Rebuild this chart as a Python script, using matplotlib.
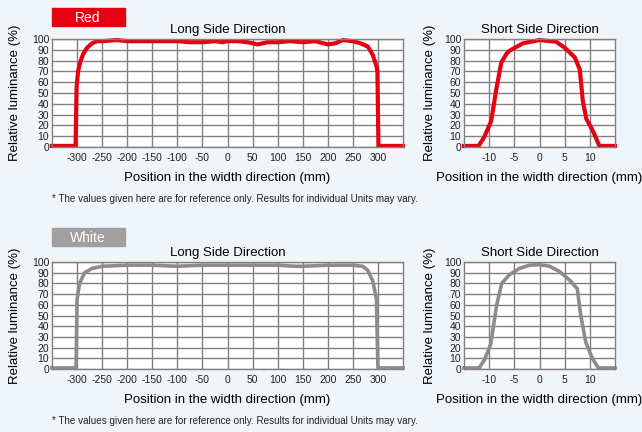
import matplotlib.pyplot as plt

plt.rcParams['font.family'] = ['Liberation Sans', 'DejaVu Sans']
plt.rcParams['axes.unicode_minus'] = False

# Red, long side
red_long_x = [-350, -303, -301, -298, -294, -288, -280, -270, -260, -250, -220, -200, -150, -100, -75, -50,
              -25, -10, 0, 20, 40, 60, 80, 100, 125, 150, 175, 200, 215, 230, 250, 265, 280, 290, 297, 299, 301, 350]
red_long_y = [1, 1, 55, 70, 78, 86, 92, 96, 98, 98, 99, 98, 98, 98, 97, 97,
              98, 97, 98, 98, 97, 95, 97, 97, 98, 97, 98, 95, 96, 99, 98, 96, 93, 85, 75, 70, 1, 1]
# Red, short side
red_short_x = [-15, -12.1, -11, -9.6, -8.6, -7.6, -6.6, -6, -3.3, 0, 3.3, 5, 7, 8, 8.6, 9.3, 10.6, 11.9, 15]
red_short_y = [1, 1, 9, 24, 53, 78, 86, 89, 96, 99, 97.5, 92, 83, 72, 43, 26, 15, 1, 1]
# White, long side
wht_long_x = [-350, -302, -300, -295, -285, -270, -250, -200, -150, -100, -50, 0, 50, 100, 135, 150,
              200, 250, 270, 280, 290, 297, 300, 350]
wht_long_y = [1, 1, 65, 80, 90, 94, 96, 97, 97, 96, 97, 97, 97, 97, 96, 96,
              97, 97, 96, 92, 82, 65, 1, 1]
# White, short side
wht_short_x = [-15, -12, -11, -9.7, -8.5, -7.5, -6, -4, -2, 0, 2, 4, 6, 7.5, 8.2, 9.2, 10.5, 11.7, 15]
wht_short_y = [1, 1, 8, 23, 60, 80, 88, 94, 97, 97.5, 96, 91, 83, 75, 50, 25, 10, 1, 1]

long_ticks = [-300, -250, -200, -150, -100, -50, 0, 50, 100, 150, 200, 250, 300]
short_ticks = [-10, -5, 0, 5, 10]
y_ticks = list(range(0, 101, 10))

W, H = 642, 432
bg = '#f0f5fa'
gridc = '#808080'
note = '* The values given here are for reference only. Results for individual Units may vary.'

fig = plt.figure(figsize=(W / 100, H / 100), dpi=100, facecolor=bg)


def add_ax(x0, y0, x1, y1):
    return fig.add_axes([x0 / W, 1 - y1 / H, (x1 - x0) / W, (y1 - y0) / H])


def style(ax, xlim, xt, title):
    ax.set_facecolor('white')
    ax.set_xlim(xlim)
    ax.set_ylim(0, 100)
    ax.set_xticks(xt)
    ax.set_yticks(y_ticks)
    ax.grid(True, color=gridc, lw=1)
    ax.set_axisbelow(True)
    ax.tick_params(length=0, labelsize=7.5, pad=4, labelcolor='#222222')
    ax.tick_params(axis='y', pad=2)
    for s in ax.spines.values():
        s.set_color(gridc)
        s.set_linewidth(1)
    ax.set_title(title, fontsize=9.5, pad=4)
    ax.set_xlabel('Position in the width direction (mm)', fontsize=9.5, labelpad=7)
    ax.set_ylabel('Relative luminance (%)', fontsize=9.5, labelpad=8)


rows = [(39, 147, red_long_x, red_long_y, red_short_x, red_short_y, '#e60012', 3.0, 'Red', '#e60012', 8, 199),
        (262, 369, wht_long_x, wht_long_y, wht_short_x, wht_short_y, '#8c8c8c', 2.6, 'White', '#a0a0a0', 228, 421)]

for top, bot, lx, ly, sx, sy, col, lw, tag, tagc, tagy, noty in rows:
    ax1 = add_ax(52, top, 403, bot)
    style(ax1, (-350, 350), long_ticks, 'Long Side Direction')
    ax1.plot(lx, ly, color=col, lw=lw, solid_joinstyle='round', clip_on=False)
    ax2 = add_ax(464, top, 615, bot)
    style(ax2, (-15, 15), short_ticks, 'Short Side Direction')
    ax2.yaxis.labelpad = 6
    ax2.plot(sx, sy, color=col, lw=lw, solid_joinstyle='round', clip_on=False)
    fig.patches.append(plt.Rectangle((52 / W, 1 - (tagy + 18) / H), 73 / W, 18 / H,
                                     transform=fig.transFigure, color=tagc, zorder=0))
    fig.text(88 / W, 1 - (tagy + 9.5) / H, tag, color='white', fontsize=10, ha='center', va='center')
    fig.text(52 / W, 1 - noty / H, note, fontsize=7.1, ha='left', va='center', color='#222222')

fig.savefig('out.png', dpi=100, facecolor=bg)
